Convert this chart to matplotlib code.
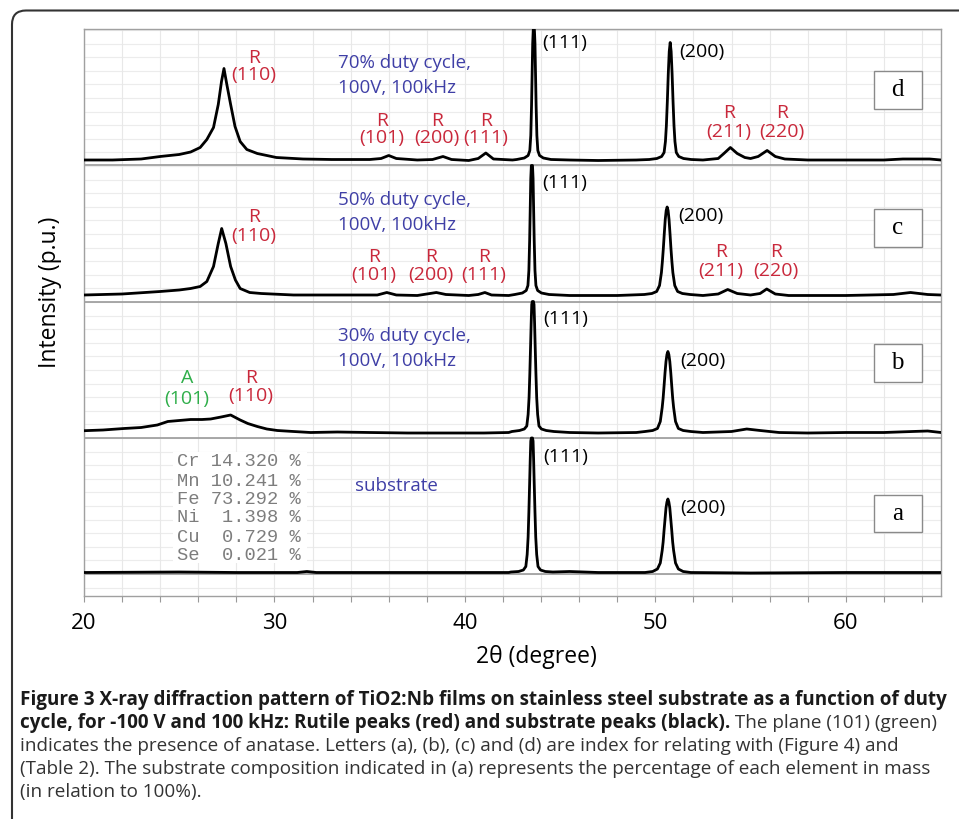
import matplotlib
matplotlib.use("Agg")
import matplotlib.pyplot as plt
from matplotlib.patches import FancyBboxPatch, Rectangle
from matplotlib.transforms import IdentityTransform
import numpy as np

W, H, DPI = 959, 819, 100

# ---------------- data (2theta, intensity above each trace's baseline, p.u.) ----------------
trace_d = [(20.0, 0.5), (21.5, 0.5), (23.0, 1.5), (24.0, 4), (25.0, 6), (25.6, 8.5), (26.1, 13),
           (26.45, 21), (26.8, 33), (27.05, 56), (27.22, 79), (27.35, 92), (27.5, 76), (27.7, 56),
           (27.93, 34), (28.2, 19), (28.55, 11), (29.1, 7), (30.1, 3), (31.5, 1.5), (33.0, 1),
           (35.0, 1), (35.6, 2), (36.0, 5), (36.4, 2), (37.5, 0.5), (38.3, 1), (38.85, 4), (39.3, 1),
           (40.2, 0), (40.7, 2), (41.1, 7.5), (41.5, 1.5), (42.5, 0.5),
           (42.72, 1), (43.12, 2.5), (43.32, 5), (43.41, 10), (43.46, 25), (43.50, 55), (43.53, 86),
           (43.56, 117), (43.59, 131), (43.62, 131), (43.65, 131), (43.68, 117), (43.71, 86),
           (43.74, 55), (43.78, 25), (43.83, 10), (43.92, 5), (44.12, 2.5), (44.52, 1),
           (45.5, 0.5), (47.0, 0), (49.0, 0.5),
           (49.68, 1), (50.08, 2), (50.33, 4), (50.46, 8), (50.53, 19), (50.58, 35), (50.63, 59),
           (50.68, 87), (50.73, 109), (50.78, 118), (50.83, 109), (50.88, 87), (50.93, 59),
           (50.98, 35), (51.03, 19), (51.10, 8), (51.23, 4), (51.48, 2), (51.88, 1),
           (52.5, 0.5), (53.3, 2), (53.6, 7), (53.94, 13), (54.3, 7), (54.7, 3), (55.0, 2),
           (55.4, 4), (55.87, 10), (56.3, 4), (56.8, 1.5), (58.0, 0.5), (60.0, 0.5), (62.0, 0.5),
           (63.0, 1.5), (63.7, 1.5), (64.4, 1.5), (65.0, 0.5)]

trace_c = [(20.0, 0.5), (22.0, 1.5), (24.0, 4), (25.0, 5.5), (25.6, 7), (26.1, 9), (26.45, 14),
           (26.8, 29), (27.05, 52), (27.23, 67), (27.45, 52), (27.7, 29), (27.95, 15.5), (28.2, 7),
           (28.7, 3), (29.3, 2), (31.0, 0.5), (33.0, 0.5), (35.4, 0.5), (35.9, 3), (36.4, 0.5),
           (37.5, 0), (38.0, 1.5), (38.5, 3), (39.0, 1), (40.2, 0), (40.7, 1), (41.05, 3),
           (41.4, 0.5), (42.3, 0),
           (42.62, 1), (43.02, 2.5), (43.22, 5), (43.31, 10), (43.36, 25), (43.40, 55), (43.43, 86),
           (43.46, 117), (43.49, 130), (43.52, 130), (43.55, 130), (43.58, 117), (43.61, 86),
           (43.64, 55), (43.68, 25), (43.73, 10), (43.82, 5), (44.02, 2.5), (44.42, 1),
           (45.5, 0), (48.0, 0),
           (49.42, 1), (49.82, 2), (50.07, 4), (50.22, 10), (50.32, 23), (50.37, 34), (50.42, 47),
           (50.47, 62), (50.52, 76), (50.57, 85), (50.62, 88.5), (50.67, 85), (50.72, 76),
           (50.77, 62), (50.82, 47), (50.87, 34), (50.92, 23), (51.02, 10), (51.17, 4),
           (51.42, 2), (51.82, 1),
           (52.5, 0), (53.3, 1.5), (53.8, 6), (54.3, 2), (55.0, 0.5), (55.5, 2), (55.85, 6.5),
           (56.3, 1.5), (57.0, 0), (60.0, 0), (62.5, 1), (63.4, 3), (64.3, 1), (65.0, 0.5)]

trace_b = [(20.0, 1.8), (21.0, 2.5), (22.1, 4), (23.0, 5), (23.85, 7.5), (24.4, 11), (25.0, 12),
           (25.6, 13), (26.2, 13), (26.65, 13.5), (27.2, 15.5), (27.7, 17.5), (28.2, 12.5),
           (28.6, 9), (29.1, 6), (29.6, 3.5), (30.15, 2), (31.0, 1), (31.9, 0), (33.3, 0.5),
           (35.0, 0), (37.0, -0.5), (39.0, -0.5), (41.0, -0.5), (42.3, 0),
           (42.47, 1), (42.87, 2), (43.12, 3.5), (43.25, 6.5), (43.32, 18), (43.37, 35),
           (43.41, 59), (43.45, 87), (43.48, 109), (43.51, 128), (43.54, 131), (43.57, 131),
           (43.60, 131), (43.63, 128), (43.66, 109), (43.69, 87), (43.73, 59), (43.77, 35),
           (43.82, 18), (43.89, 6.5), (44.02, 3.5), (44.27, 2), (44.67, 1),
           (45.5, 0), (47.0, -0.5), (49.0, 0),
           (49.46, 1), (49.86, 2), (50.11, 4), (50.26, 11), (50.36, 25), (50.41, 34.5),
           (50.46, 47), (50.51, 60), (50.56, 71), (50.61, 78), (50.66, 81), (50.71, 78),
           (50.76, 71), (50.81, 60), (50.86, 47), (50.91, 34.5), (50.96, 25), (51.06, 11),
           (51.21, 4), (51.46, 2), (51.86, 1),
           (52.5, 0), (54.0, 1), (54.8, 3.5), (55.5, 2), (56.5, 0), (58.0, -0.5), (60.0, 0),
           (62.0, 0), (63.5, 1), (64.3, 1.5), (65.0, 0)]

trace_a = [(20.0, 0.5), (25.0, 1), (28.0, 0.5), (31.2, 0.5), (31.7, 1.5), (32.2, 0.5), (38.0, 0.5),
           (42.3, 0.5),
           (42.42, 1), (42.82, 1.5), (43.07, 3), (43.20, 6.5), (43.27, 18.5), (43.32, 36),
           (43.36, 61), (43.40, 90), (43.43, 113), (43.46, 132), (43.49, 135), (43.52, 135),
           (43.55, 135), (43.58, 132), (43.61, 113), (43.64, 90), (43.68, 61), (43.72, 36),
           (43.77, 18.5), (43.84, 6.5), (43.97, 3), (44.22, 1.5), (44.62, 1),
           (45.5, 1.5), (47.0, 0.5), (49.0, 0.5),
           (49.46, 0.5), (49.86, 1.5), (50.11, 4), (50.26, 10), (50.36, 22.5), (50.41, 31),
           (50.46, 43), (50.51, 54), (50.56, 65), (50.61, 71), (50.66, 74), (50.71, 71),
           (50.76, 65), (50.81, 54), (50.86, 43), (50.91, 31), (50.96, 22.5), (51.06, 10),
           (51.21, 4), (51.46, 1.5), (51.86, 0.5),
           (55.0, 0), (60.0, 0.5), (65.0, 0.5)]

trace_offsets = {"d": 435.5, "c": 300.5, "b": 163.5, "a": 23.0}
panel_lines = [431, 294, 158, 22]
x_major = [20, 30, 40, 50, 60]

composition_elements = ["Cr", "Mn", "Fe", "Ni", "Cu", "Se"]
composition_values = [14.320, 10.241, 73.292, 1.398, 0.729, 0.021]

RED = "#c9283b"
BLUE = "#3f3fa6"
GREEN = "#2fae4a"
SANS = ["Open Sans", "DejaVu Sans"]
LBL = 14      # red / black peak labels
BLU = 13.5    # blue condition labels

fig = plt.figure(figsize=(W / DPI, H / DPI), dpi=DPI)
fig.patch.set_facecolor("white")


def px_box(x0, y0, x1, y1):
    return [x0 / W, 1 - y1 / H, (x1 - x0) / W, (y1 - y0) / H]


ax = fig.add_axes(px_box(84, 29, 941, 596))
ax.set_xlim(20, 65)
ax.set_ylim(0, 567)

# grid
ax.set_xticks(np.arange(20, 65.01, 2))
ax.set_xticklabels([str(int(v)) if int(v) in x_major else "" for v in np.arange(20, 65.01, 2)])
ax.set_yticks([])
ax.grid(axis="x", color="#e8e8e8", lw=0.8)
ax.hlines(22 + 13.6 * np.arange(-1, 41), 20, 65, color="#ececec", lw=0.8, zorder=0.5)
ax.set_axisbelow(True)
ax.tick_params(axis="x", direction="out", length=4, width=0.8, color="#999999",
               labelsize=16, pad=8, labelcolor="black")
for lab in ax.get_xticklabels():
    lab.set_family(SANS)
for s in ax.spines.values():
    s.set_color("#a0a0a0")
    s.set_linewidth(1.0)

for y in panel_lines:
    ax.axhline(y, color="#9a9a9a", lw=1.2, zorder=1.5)

for key, tr in (("d", trace_d), ("c", trace_c), ("b", trace_b), ("a", trace_a)):
    xs = [p[0] for p in tr]
    ys = [p[1] + trace_offsets[key] for p in tr]
    ax.plot(xs, ys, color="black", lw=2.0, solid_joinstyle="round", zorder=3)


def lab2(x, y_top, y_bot, top, bottom, color, size=LBL):
    ax.text(x, y_top, top, color=color, ha="center", va="center", fontsize=size, family=SANS)
    ax.text(x, y_bot, bottom, color=color, ha="center", va="center", fontsize=size, family=SANS)


def txt(x, y, s, color="black", size=LBL, ha="left"):
    ax.text(x, y, s, color=color, ha=ha, va="center", fontsize=size, family=SANS)


def letter_box(y0, y1, s):
    ax.add_patch(Rectangle((61.47, y0), 63.99 - 61.47, y1 - y0, facecolor="white",
                           edgecolor="#8a8a8a", lw=1.0, zorder=4))
    ax.text((61.47 + 63.99) / 2, (y0 + y1) / 2, s, ha="center", va="center", fontsize=18,
            family=["Liberation Serif", "DejaVu Serif"], zorder=5)


# panel d
lab2(28.92, 538, 521, "R", "(110)", RED)
txt(33.33, 533, "70% duty cycle,", BLUE, BLU)
txt(33.33, 508, "100V, 100kHz", BLUE, BLU)
lab2(35.64, 475, 458, "R", "(101)", RED)
lab2(38.53, 475, 458, "R", "(200)", RED)
lab2(41.10, 475, 458, "R", "(111)", RED)
txt(44.04, 553, "(111)")
txt(51.23, 544, "(200)")
lab2(53.86, 483, 464, "R", "(211)", RED)
lab2(56.64, 483, 464, "R", "(220)", RED)
letter_box(487, 525, "d")

# panel c
lab2(28.92, 379, 360, "R", "(110)", RED)
txt(33.33, 396, "50% duty cycle,", BLUE, BLU)
txt(33.33, 371, "100V, 100kHz", BLUE, BLU)
lab2(35.22, 339, 321, "R", "(101)", RED)
lab2(38.22, 339, 321, "R", "(200)", RED)
lab2(41.00, 339, 321, "R", "(111)", RED)
txt(44.04, 413, "(111)")
txt(51.18, 380, "(200)")
lab2(53.44, 344, 325, "R", "(211)", RED)
lab2(56.33, 344, 325, "R", "(220)", RED)
letter_box(349, 387, "c")

# panel b
txt(33.33, 260, "30% duty cycle,", BLUE, BLU)
txt(33.33, 235, "100V, 100kHz", BLUE, BLU)
lab2(25.41, 218, 197, "A", "(101)", GREEN)
lab2(28.77, 218, 200, "R", "(110)", RED)
txt(44.09, 277, "(111)")
txt(51.29, 235, "(200)")
letter_box(214, 252, "b")

# panel a
ax.add_patch(Rectangle((24.67, 33), 31.71 - 24.67, 144 - 33, facecolor="white",
                       edgecolor="none", zorder=1))
rows_y = [134, 115, 96, 78, 59, 40]
for el, val, yy in zip(composition_elements, composition_values, rows_y):
    ax.text(24.88, yy, f"{el} {val:6.3f} %", color="#7d7d7d", ha="left", va="center",
            fontsize=13.5, family=["Liberation Mono", "DejaVu Sans Mono"], zorder=2)
txt(34.23, 110, "substrate", BLUE, BLU)
txt(44.09, 139, "(111)")
txt(51.29, 88, "(200)")
letter_box(64, 101, "a")

# axis titles
fig.text(50 / W, 1 - 292 / H, "Intensity (p.u.)", rotation=90, ha="center", va="center",
         fontsize=16.5, family=SANS)
fig.text(536 / W, 1 - 657 / H, "2θ (degree)", ha="center", va="center", fontsize=16.5,
         family=SANS)

# outer rounded frame
frame = FancyBboxPatch((12, -60), 1020, H - 10.5 + 60, boxstyle="round,pad=0,rounding_size=14",
                       transform=IdentityTransform(), facecolor="none", edgecolor="#333333",
                       lw=1.5)
fig.add_artist(frame)

# caption
renderer = fig.canvas.get_renderer()
cap_y = [700, 723, 746, 769, 792]
line1 = "Figure 3 X-ray diffraction pattern of TiO2:Nb films on stainless steel substrate as a function of duty"
line2b = "cycle, for -100 V and 100 kHz: Rutile peaks (red) and substrate peaks (black)."
line2n = " The plane (101) (green)"
line3 = "indicates the presence of anatase. Letters (a), (b), (c) and (d) are index for relating with (Figure 4) and"
line4 = "(Table 2). The substrate composition indicated in (a) represents the percentage of each element in mass"
line5 = "(in relation to 100%)."

t1 = fig.text(20 / W, 1 - cap_y[0] / H, line1, fontweight="bold", fontsize=13, va="center",
              ha="left", family=SANS, color="#1a1a1a")
fsb = 13 * 920 / t1.get_window_extent(renderer).width
t1.set_fontsize(fsb)
t4 = fig.text(20 / W, 1 - cap_y[3] / H, line4, fontsize=13, va="center", ha="left",
              family=SANS, color="#333333")
fsn = 13 * 905 / t4.get_window_extent(renderer).width
t4.set_fontsize(fsn)
t2 = fig.text(20 / W, 1 - cap_y[1] / H, line2b, fontweight="bold", fontsize=fsb, va="center",
              ha="left", family=SANS, color="#1a1a1a")
x2 = t2.get_window_extent(renderer).x1
fig.text(x2 / W, 1 - cap_y[1] / H, line2n, fontsize=fsn, va="center", ha="left",
         family=SANS, color="#333333")
fig.text(20 / W, 1 - cap_y[2] / H, line3, fontsize=fsn, va="center", ha="left",
         family=SANS, color="#333333")
fig.text(20 / W, 1 - cap_y[4] / H, line5, fontsize=fsn, va="center", ha="left",
         family=SANS, color="#333333")

fig.savefig("out.png", dpi=DPI, facecolor="white")
